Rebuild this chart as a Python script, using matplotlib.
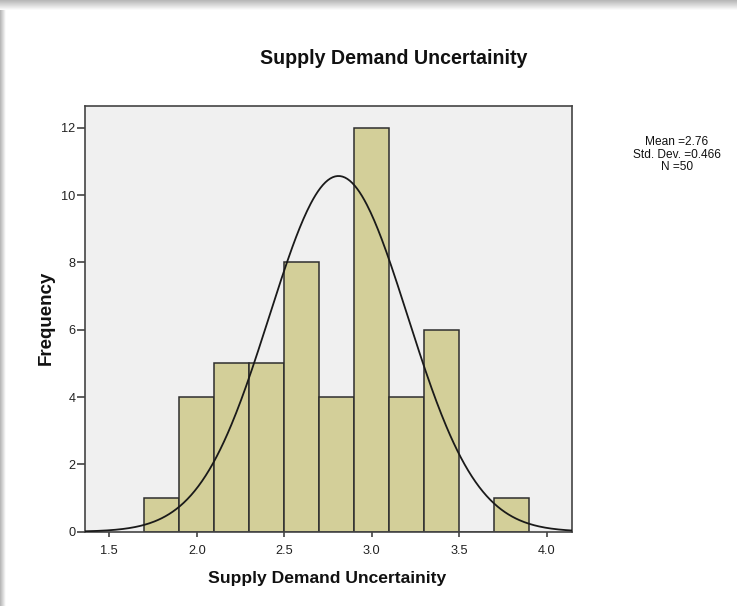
import numpy as np
import matplotlib
matplotlib.use("Agg")
import matplotlib.pyplot as plt
from matplotlib.patches import Rectangle

plt.rcParams['font.family'] = ['Liberation Sans', 'DejaVu Sans']

# ---- data ----
bin_edges = [1.7, 1.9, 2.1, 2.3, 2.5, 2.7, 2.9, 3.1, 3.3, 3.5, 3.7, 3.9]
counts = [1, 4, 5, 5, 8, 4, 12, 4, 6, 0, 1]
x_ticks = [1.5, 2.0, 2.5, 3.0, 3.5, 4.0]
x_tick_labels = ["1.5", "2.0", "2.5", "3.0", "3.5", "4.0"]
y_ticks = [0, 2, 4, 6, 8, 10, 12]
curve_center = 2.81
curve_sd = 0.395
curve_peak = 10.57
stats_lines = ["Mean =2.76", "Std. Dev. =0.466", "N =50"]
title = "Supply Demand Uncertainity"
xlabel = "Supply Demand Uncertainity"
ylabel = "Frequency"

W, H = 737, 606
fig = plt.figure(figsize=(W / 100, H / 100), dpi=100)
fig.patch.set_facecolor("white")

# shadow strips on top and left edges
shadow = fig.add_axes([0, 0, 1, 1], zorder=-10)
shadow.set_axis_off()
shadow.set_xlim(0, W)
shadow.set_ylim(H, 0)
top_h = 10
for i in range(top_h):
    g = 0.72 + 0.26 * (i / (top_h - 1))
    shadow.add_patch(Rectangle((0, i), W, 1, color=(g, g, g), lw=0))
left_w = 6
for i in range(left_w):
    g = 0.72 + 0.26 * (i / (left_w - 1))
    shadow.add_patch(Rectangle((i, top_h), 1, H - top_h, color=(g, g, g), lw=0))

ax = fig.add_axes([85 / W, 1 - 531.7 / H, 486.7 / W, 425.7 / H])
ax.set_facecolor("#f0f0f0")

widths = np.diff(bin_edges)
ax.bar(bin_edges[:-1], counts, width=widths, align="edge",
       color="#d3cf99", edgecolor="#2e2e2e", linewidth=1.1, zorder=2)

xs = np.linspace(1.36, 4.145, 400)
ys = curve_peak * np.exp(-0.5 * ((xs - curve_center) / curve_sd) ** 2)
ax.plot(xs, ys, color="#1a1a1a", linewidth=1.3, zorder=3)

ax.set_xlim(1.361, 4.143)
ax.set_ylim(0, 12.65)
ax.set_xticks(x_ticks)
ax.set_xticklabels(x_tick_labels)
ax.set_yticks(y_ticks)
ax.tick_params(axis="both", direction="out", width=1.1,
               color="#333333", labelsize=9.2, labelcolor="#222222")
ax.tick_params(axis="x", length=3.8, pad=5.5)
ax.tick_params(axis="y", length=6.0, pad=0.8)
for s in ax.spines.values():
    s.set_color("#444444")
    s.set_linewidth(1.2)

fig.text(394 / W, 1 - 58 / H, title, ha="center", va="center",
         fontsize=14.1, fontweight="bold", color="#111111")
fig.text(327.5 / W, 1 - 578 / H, xlabel, ha="center", va="center",
         fontsize=12.6, fontweight="bold", color="#111111")
fig.text(46.5 / W, 1 - 318 / H, ylabel, ha="center", va="center",
         rotation=90, fontsize=13.5, fontweight="bold", color="#111111")

for i, line in enumerate(stats_lines):
    fig.text(677 / W, 1 - (145 + 12.7 * i) / H, line, ha="center", va="baseline",
             fontsize=8.6, color="#111111")

fig.savefig("out.png", dpi=100)
